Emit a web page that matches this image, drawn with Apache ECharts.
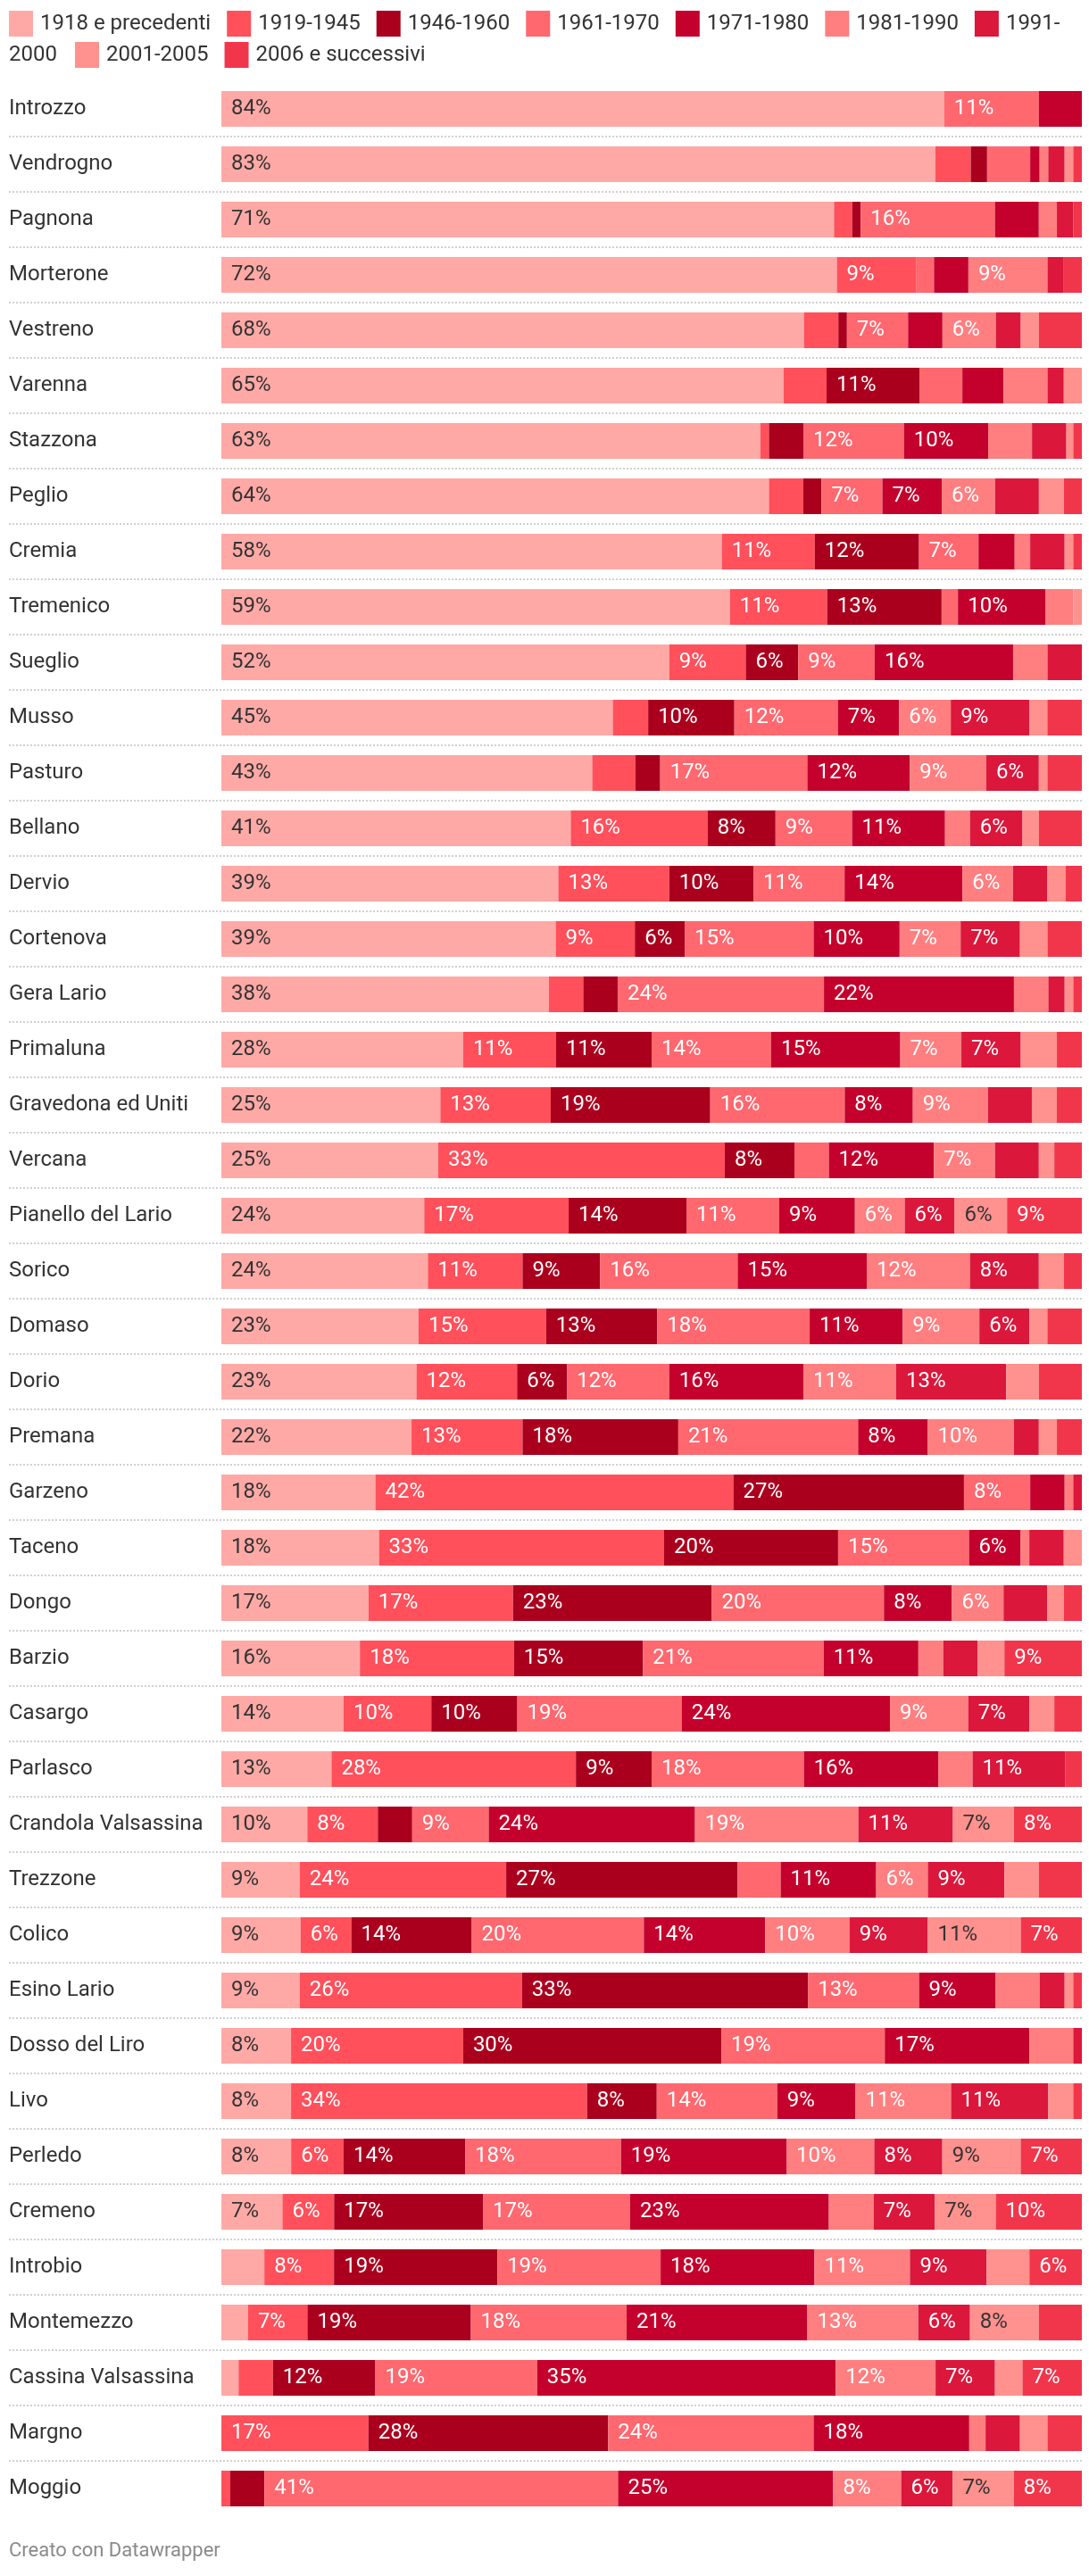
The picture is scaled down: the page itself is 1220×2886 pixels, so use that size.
<!DOCTYPE html>
<html>
<head>
<meta charset="utf-8">
<script src="https://cdn.jsdelivr.net/npm/echarts/dist/echarts.min.js"></script>
<style>
html,body{margin:0;padding:0;background:#ffffff;}
#c{width:1220px;height:2886px;}
</style>
</head>
<body>
<div id="c"></div>
<script>
// ---------- DATA ----------
const comuni = ['Introzzo','Vendrogno','Pagnona','Morterone','Vestreno','Varenna','Stazzona','Peglio','Cremia','Tremenico','Sueglio','Musso','Pasturo','Bellano','Dervio','Cortenova','Gera Lario','Primaluna','Gravedona ed Uniti','Vercana','Pianello del Lario','Sorico','Domaso','Dorio','Premana','Garzeno','Taceno','Dongo','Barzio','Casargo','Parlasco','Crandola Valsassina','Trezzone','Colico','Esino Lario','Dosso del Liro','Livo','Perledo','Cremeno','Introbio','Montemezzo','Cassina Valsassina','Margno','Moggio'];

const periodi = ['1918 e precedenti','1919-1945','1946-1960','1961-1970','1971-1980','1981-1990','1991-2000','2001-2005','2006 e successivi'];

const p1918     = [84,82.9,71.2,71.6,67.7,65.4,62.7,63.7,58.1,59.1,52.1,45.4,43.1,40.6,39.2,38.9,38.1,28.1,25.4,25.2,23.6,24.0,22.9,22.7,22.1,17.9,18.3,17.1,16.1,14.2,12.8,10.0,9.1,9.2,9.1,8.1,8.1,8.1,7.1,5.0,3.1,2.0,0,0];
const p1919_45  = [0,4.1,2.1,9.2,4.0,5.0,1.0,4.0,10.8,11.3,8.9,4.1,5.0,15.9,12.9,9.2,4.0,10.8,12.8,33.3,16.8,11.0,14.8,11.7,12.9,41.6,33.1,16.8,17.9,10.2,28.4,8.2,24.0,5.9,25.8,20.0,34.4,6.1,6.0,8.1,6.9,4.0,17.1,1.0];
const p1946_60  = [0,1.9,1.0,0,1.0,10.8,4.0,2.1,12.1,13.3,6.1,10.0,2.9,7.9,9.8,5.8,4.0,11.1,18.5,8.1,13.7,9.0,12.9,5.8,18.1,26.8,20.2,23.1,15.0,10.0,8.8,4.0,26.9,14.0,33.2,30.0,8.1,14.1,17.3,19.0,19.0,11.9,27.9,4.0];
const p1961_70  = [11,5.0,15.6,2.1,7.1,5.0,11.7,7.1,6.9,1.9,8.9,12.0,17.1,8.9,10.6,15.0,24.0,13.9,15.6,4.0,10.8,16.0,17.7,11.9,20.9,7.7,15.2,20.0,21.0,19.1,17.7,8.9,5.0,20.0,12.9,19.0,14.0,18.1,17.1,19.0,18.1,18.8,23.9,41.1];
const p1971_80  = [5,1.1,5.1,4.0,4.0,4.8,9.8,6.9,4.2,10.2,16.1,7.1,11.9,10.8,13.7,10.0,22.1,15.0,7.9,12.2,8.8,15.0,10.8,15.6,8.1,4.0,6.0,7.9,11.0,24.2,15.6,24.0,11.1,14.1,8.9,16.8,9.1,19.2,23.1,17.9,21.0,34.7,18.1,25.0];
const p1981_90  = [0,1.0,2.1,9.2,6.2,5.1,5.1,6.2,1.8,3.2,4.0,6.0,8.9,2.9,5.9,7.1,4.0,7.1,8.7,7.1,5.8,12.0,8.9,10.8,10.0,1.0,1.0,6.0,2.9,9.1,4.0,19.0,6.0,9.8,5.1,5.1,11.1,10.2,5.2,11.1,12.9,11.6,1.9,7.9];
const p1991_00  = [0,1.9,1.9,1.9,2.9,1.9,4.0,5.1,4.0,0,4.0,9.1,6.1,6.1,4.0,6.9,1.9,6.9,5.1,5.1,5.8,8.0,5.8,12.8,2.9,1.0,4.0,5.1,4.0,7.1,10.8,11.0,8.9,9.1,2.9,1.0,11.3,7.9,7.1,8.9,6.0,6.9,4.0,6.0];
const p2001_05  = [0,1.0,0,0,2.1,2.1,0.8,2.9,1.0,1.0,0,2.1,1.0,1.9,2.1,3.2,1.0,4.2,2.9,1.8,6.1,2.9,2.1,3.8,2.1,0,2.1,1.9,3.1,2.9,0,7.1,4.0,10.8,1.0,0,2.9,9.1,7.1,5.0,8.0,3.2,3.2,7.1];
const p2006     = [0,1.0,1.0,2.1,5.0,0,1.0,2.1,1.0,0,0,4.0,4.0,5.0,1.9,4.0,1.0,2.9,2.9,3.2,8.7,2.1,4.0,5.0,2.9,0,0,2.1,9.0,3.2,1.9,7.9,5.0,7.1,1.0,0,1.0,7.1,10.0,6.1,5.0,6.9,4.0,7.9];

// ---------- STYLE ----------
const colori = ['#ffa9a6','#ff505b','#aa001e','#ff686f','#c4002c','#ff7f80','#db173b','#ff918e','#f1364c'];
const FONT = 'Roboto, "Noto Sans", sans-serif';

const valori = [p1918,p1919_45,p1946_60,p1961_70,p1971_80,p1981_90,p1991_00,p2001_05,p2006];
// row totals, so every bar spans 100%
const totali = comuni.map((c, r) => valori.reduce((s, arr) => s + arr[r], 0));

const series = periodi.map((nome, i) => ({
  type: 'bar',
  name: nome,
  stack: 'tot',
  xAxisIndex: 1,
  yAxisIndex: 1,
  barWidth: 40,
  itemStyle: { color: colori[i] },
  emphasis: { disabled: true },
  label: {
    show: true,
    position: 'insideLeft',
    distance: 11,
    color: (i === 0 || i === 7) ? '#333333' : '#ffffff',
    fontSize: 24,
    fontFamily: FONT,
    formatter: p => (p.value >= 5.5 ? Math.round(p.value) + '%' : '')
  },
  data: valori[i].map((v, r) => v * 100 / totali[r])
}));

const chart = echarts.init(document.getElementById('c'), null, { renderer: 'canvas' });
chart.setOption({
  animation: false,
  backgroundColor: '#ffffff',
  legend: [
    {
      data: periodi.slice(0, 7),
      left: 10, top: 12, padding: 0,
      icon: 'rect', itemWidth: 27, itemHeight: 29, itemGap: 18,
      selectedMode: false,
      textStyle: { fontSize: 24, color: '#333333', fontFamily: FONT, padding: [0, 0, 0, 3] },
      formatter: n => (n === '1991-2000' ? '1991-' : n)
    },
    {
      data: periodi.slice(7),
      left: 84, top: 47, padding: 0,
      icon: 'rect', itemWidth: 27, itemHeight: 29, itemGap: 18,
      selectedMode: false,
      textStyle: { fontSize: 24, color: '#333333', fontFamily: FONT, padding: [0, 0, 0, 3] }
    }
  ],
  graphic: [
    { type: 'text', x: 10, y: 62, style: { text: '2000', fontSize: 24, fill: '#333333', fontFamily: FONT, verticalAlign: 'middle' } },
    { type: 'text', x: 10, y: 2858, style: { text: 'Creato con Datawrapper', fontSize: 22, fill: '#8a8a8a', fontFamily: FONT, verticalAlign: 'middle' } }
  ],
  grid: [
    { left: 10, right: 8, top: 153, height: 2604 },
    { left: 248, right: 8, top: 91, height: 2728 }
  ],
  xAxis: [
    { gridIndex: 0, type: 'value', min: 0, max: 1, show: false },
    { gridIndex: 1, type: 'value', min: 0, max: 100, show: false }
  ],
  yAxis: [
    {
      gridIndex: 0, type: 'value', min: 0, max: 42, interval: 1,
      axisLabel: { show: false }, axisLine: { show: false }, axisTick: { show: false },
      splitLine: { show: true, lineStyle: { color: '#d0d0d0', type: 'dotted', width: 2 } }
    },
    {
      gridIndex: 1, type: 'category', data: comuni, inverse: true,
      axisLine: { show: false }, axisTick: { show: false }, splitLine: { show: false },
      axisLabel: { align: 'left', margin: 238, fontSize: 24, color: '#333333', fontFamily: FONT }
    }
  ],
  series: series
});
</script>
</body>
</html>
